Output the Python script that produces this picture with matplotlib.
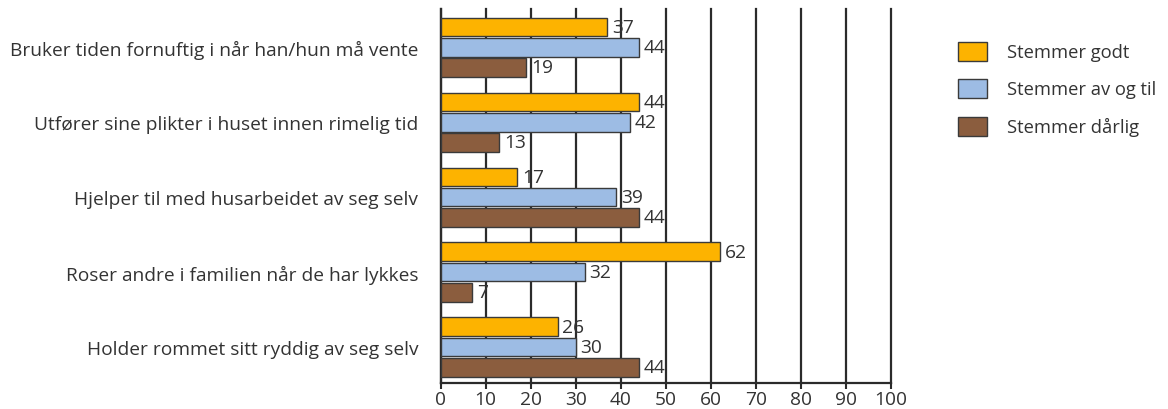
import matplotlib
matplotlib.use("Agg")
import matplotlib.pyplot as plt
from matplotlib.patches import Rectangle
import numpy as np

categories = [
    "Bruker tiden fornuftig i når han/hun må vente",
    "Utfører sine plikter i huset innen rimelig tid",
    "Hjelper til med husarbeidet av seg selv",
    "Roser andre i familien når de har lykkes",
    "Holder rommet sitt ryddig av seg selv",
]
series_names = ["Stemmer godt", "Stemmer av og til", "Stemmer dårlig"]
godt = [37, 44, 17, 62, 26]
av_og_til = [44, 42, 39, 32, 30]
darlig = [19, 13, 44, 7, 44]
xticks = [0, 10, 20, 30, 40, 50, 60, 70, 80, 90, 100]

colors = ["#FDB300", "#9DBCE4", "#8B5D3E"]
edge = "#3a3a3a"
txt = "#333333"
FS = 13.8

plt.rcParams['font.family'] = ['Open Sans', 'DejaVu Sans']

W, H = 1168, 410
fig = plt.figure(figsize=(W/100, H/100), dpi=100)
ax = fig.add_axes([440.5/W, 26/H, (891-440.5)/W, 374/H])

y = np.arange(len(categories))
h = 0.253
offs = [-0.267, 0.0, 0.267]
for vals, col, off in zip([godt, av_og_til, darlig], colors, offs):
    ax.barh(y + off, vals, height=h, color=col, edgecolor=edge, linewidth=1.0, zorder=3)
    for yy, v in zip(y + off, vals):
        ax.annotate(str(v), (v, yy), xytext=(3.5, 0), textcoords="offset points",
                    va="center", ha="left", fontsize=FS, color=txt, zorder=4)

ax.set_xlim(0, 100)
ax.set_ylim(4.48, -0.507)
ax.set_xticks(xticks)
ax.set_xticklabels([str(t) for t in xticks], fontsize=FS, color=txt)
ax.set_yticks(y)
ax.set_yticklabels(categories, fontsize=FS, color=txt)
ax.tick_params(axis="y", length=0, pad=16)
ax.tick_params(axis="x", length=4, width=1.5, color="#2b2b2b", pad=1)
for t in xticks:
    ax.axvline(t, color="#2b2b2b", linewidth=1.6, zorder=1, clip_on=False)
for s in ["top", "right"]:
    ax.spines[s].set_visible(False)
for s in ["left", "bottom"]:
    ax.spines[s].set_linewidth(1.6)
    ax.spines[s].set_color("#2b2b2b")

# legend drawn in figure pixel coordinates
for i, (name, col) in enumerate(zip(series_names, colors)):
    top = 43 + 37.3 * i
    fig.patches.append(Rectangle((958/W, 1 - (top + 19)/H), 29/W, 19/H,
                                 transform=fig.transFigure, facecolor=col,
                                 edgecolor=edge, linewidth=1.0))
    fig.text(1007/W, 1 - (top + 9.5)/H, name, fontsize=13.2, color=txt,
             va="center", ha="left")

fig.savefig("out.png", dpi=100)
